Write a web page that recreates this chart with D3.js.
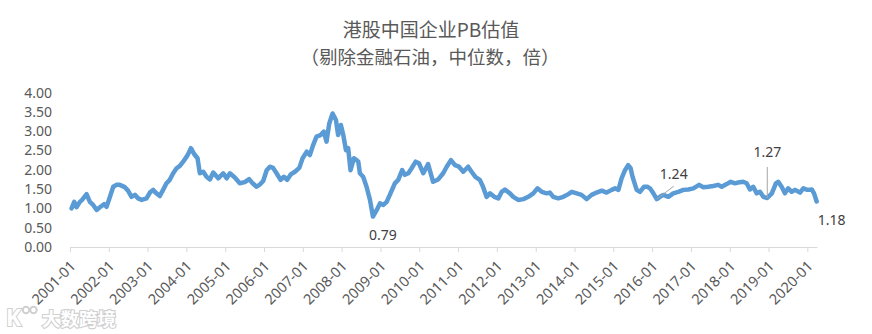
<!DOCTYPE html>
<html>
<head>
<meta charset="utf-8">
<script src="https://cdn.jsdelivr.net/npm/d3@7/dist/d3.min.js"></script>
<style>
  html, body { margin: 0; padding: 0; background: #fff; }
  svg { display: block; }
</style>
</head>
<body>
<svg id="chart" width="872" height="334"></svg>
<script>
// Median P/B of Hong Kong-listed Chinese companies (ex financials & oil)
const dates = [
  "2001-01-16","2001-02-10","2001-03-03","2001-04-04","2001-04-25","2001-06-06","2001-07-07","2001-08-07",
  "2001-09-09","2001-10-09","2001-11-19","2001-12-11","2002-01-12","2002-02-12","2002-03-14","2002-04-14",
  "2002-06-01","2002-07-01","2002-08-03","2002-09-04","2002-10-04","2002-11-06","2002-12-22","2003-01-23",
  "2003-02-22","2003-03-25","2003-04-26","2003-05-27","2003-06-28","2003-07-29","2003-08-30","2003-10-01",
  "2003-11-01","2003-12-02","2004-01-13","2004-02-13","2004-03-14","2004-04-15","2004-05-07","2004-06-08",
  "2004-07-09","2004-08-10","2004-09-10","2004-10-27","2004-12-13","2005-01-14","2005-02-14","2005-04-01",
  "2005-05-18","2005-07-04","2005-08-14","2005-09-16","2005-10-23","2005-11-23","2005-12-24","2006-01-26",
  "2006-02-25","2006-03-27","2006-04-29","2006-06-06","2006-07-07","2006-08-07","2006-09-09","2006-10-19",
  "2006-11-29","2006-12-30","2007-02-07","2007-03-08","2007-04-08","2007-05-10","2007-06-17","2007-07-18",
  "2007-08-12","2007-09-07","2007-10-08","2007-11-09","2007-11-29","2007-12-25","2008-01-17","2008-02-11",
  "2008-03-03","2008-03-25","2008-04-26","2008-05-21","2008-06-06","2008-06-21","2008-07-22","2008-08-23",
  "2008-09-24","2008-10-22","2008-11-27","2008-12-27","2009-01-28","2009-02-28","2009-03-30","2009-05-16",
  "2009-06-17","2009-07-24","2009-08-19","2009-09-20","2009-10-21","2009-11-28","2009-12-29","2010-02-08",
  "2010-03-25","2010-05-11","2010-06-28","2010-08-14","2010-09-16","2010-10-26","2010-12-03","2011-01-10",
  "2011-02-19","2011-04-06","2011-05-08","2011-06-15","2011-07-25","2011-08-24","2011-09-26","2011-10-28",
  "2011-12-08","2012-01-15","2012-02-16","2012-03-17","2012-05-03","2012-06-04","2012-07-20","2012-09-07",
  "2012-10-23","2012-12-09","2013-01-17","2013-02-26","2013-04-14","2013-05-14","2013-06-15","2013-08-01",
  "2013-09-18","2013-11-04","2013-12-06","2014-01-22","2014-03-08","2014-04-25","2014-06-11","2014-07-28",
  "2014-09-14","2014-10-30","2014-12-17","2015-01-18","2015-02-18","2015-03-20","2015-04-21","2015-05-21",
  "2015-06-13","2015-07-01","2015-08-09","2015-09-09","2015-10-16","2015-11-17","2015-12-12","2016-01-13",
  "2016-02-14","2016-03-15","2016-04-16","2016-06-02","2016-07-18","2016-09-04","2016-10-21","2016-12-07",
  "2017-01-23","2017-03-19","2017-04-27","2017-06-13","2017-07-30","2017-09-15","2017-10-17","2017-12-03",
  "2018-01-10","2018-02-20","2018-03-21","2018-05-08","2018-06-09","2018-07-10","2018-08-10","2018-09-12",
  "2018-10-12","2018-11-13","2018-12-20","2019-02-01","2019-03-11","2019-04-02","2019-05-04","2019-06-04",
  "2019-07-05","2019-08-07","2019-09-07","2019-10-24","2019-11-24","2020-01-01","2020-02-12","2020-03-04",
  "2020-03-29"
];
const pbValues = [
  1.00,1.17,1.03,1.17,1.22,1.37,1.17,1.09,
  0.96,1.03,1.11,1.04,1.30,1.56,1.61,1.61,
  1.55,1.46,1.30,1.35,1.26,1.22,1.26,1.41,
  1.48,1.39,1.32,1.48,1.65,1.74,1.91,2.04,
  2.10,2.21,2.38,2.56,2.41,2.30,1.91,1.95,
  1.82,1.75,1.93,1.78,1.91,1.78,1.91,1.80,
  1.65,1.68,1.76,1.65,1.56,1.62,1.71,1.99,
  2.08,2.05,1.91,1.74,1.82,1.74,1.88,1.95,
  2.05,2.30,2.47,2.38,2.64,2.86,2.90,2.99,
  2.73,3.20,3.46,3.29,2.90,3.16,2.90,2.51,
  2.56,1.99,2.30,2.25,2.21,1.91,1.82,1.56,
  1.22,0.79,0.96,1.13,1.09,1.17,1.35,1.65,
  1.74,1.99,1.87,1.91,2.04,2.21,2.17,1.91,
  2.15,1.69,1.75,1.91,2.08,2.25,2.12,2.08,
  1.95,2.08,1.95,1.81,1.74,1.56,1.30,1.39,
  1.30,1.26,1.43,1.49,1.39,1.30,1.22,1.24,
  1.30,1.39,1.52,1.43,1.39,1.41,1.30,1.26,
  1.30,1.37,1.43,1.39,1.35,1.24,1.35,1.41,
  1.46,1.41,1.48,1.52,1.48,1.78,1.99,2.12,
  2.04,1.82,1.48,1.43,1.56,1.56,1.52,1.39,
  1.24,1.30,1.35,1.30,1.39,1.43,1.48,1.49,
  1.52,1.61,1.55,1.56,1.58,1.61,1.56,1.63,
  1.69,1.65,1.67,1.69,1.65,1.49,1.56,1.39,
  1.43,1.30,1.27,1.39,1.65,1.69,1.56,1.39,
  1.52,1.43,1.48,1.41,1.52,1.48,1.49,1.39,
  1.18
];
const yTicks = [0, 0.5, 1, 1.5, 2, 2.5, 3, 3.5, 4];
const xTickLabels = ["2001-01","2002-01","2003-01","2004-01","2005-01","2006-01","2007-01",
  "2008-01","2009-01","2010-01","2011-01","2012-01","2013-01","2014-01","2015-01","2016-01",
  "2017-01","2018-01","2019-01","2020-01"];
// dates whose values are called out on the chart
const calloutDates = ["2008-10-22", "2016-02-14", "2018-12-20", "2020-03-29"];

const titleText = "港股中国企业PB估值";
const subtitleText = "（剔除金融石油，中位数，倍）";

const parse = d3.timeParse("%Y-%m-%d");
const parseMonth = d3.timeParse("%Y-%m");
const series = dates.map((d, i) => ({ date: parse(d), value: pbValues[i] }));

const svg = d3.select("#chart");
const font = "'Noto Sans', 'Noto Sans CJK SC', sans-serif";
const cjk = "'Noto Sans CJK SC', 'Noto Sans', sans-serif";

const x = d3.scaleTime()
  .domain([parseMonth("2001-01"), parseMonth("2020-04")])
  .range([70, 817]);
const y = d3.scaleLinear().domain([0, 4]).range([247, 92.6]);

// titles
svg.append("text")
  .attr("x", 431).attr("y", 37)
  .attr("text-anchor", "middle")
  .attr("font-family", cjk).attr("font-size", 19)
  .attr("fill", "#595959")
  .text(titleText);
svg.append("text")
  .attr("x", 430).attr("y", 64)
  .attr("text-anchor", "middle")
  .attr("font-family", cjk).attr("font-size", 18.5)
  .attr("fill", "#595959")
  .text(subtitleText);

// y axis (labels only)
const yAxis = d3.axisLeft(y).tickValues(yTicks).tickFormat(d3.format(".2f")).tickSize(0).tickPadding(0);
const gy = svg.append("g").attr("transform", "translate(52,0)").call(yAxis);
gy.select(".domain").remove();
gy.selectAll("text")
  .attr("font-family", font).attr("font-size", 14)
  .attr("fill", "#595959");

// x axis
const xTickDates = xTickLabels.map(parseMonth);
const xAxis = d3.axisBottom(x).tickValues(xTickDates).tickFormat(d3.timeFormat("%Y-%m"))
  .tickSize(5).tickSizeOuter(0);
const gx = svg.append("g").attr("transform", "translate(0,247)").call(xAxis);
gx.select(".domain").attr("stroke", "#D9D9D9").attr("stroke-width", 1);
gx.selectAll(".tick line").attr("stroke", "#D9D9D9");
gx.selectAll(".tick text")
  .attr("font-family", font).attr("font-size", 14.5)
  .attr("fill", "#595959")
  .attr("text-anchor", "end")
  .attr("dy", null)
  .attr("y", 0)
  .attr("transform", "translate(6,20) rotate(-45)");

// series line
const line = d3.line().x(d => x(d.date)).y(d => y(d.value));
svg.append("path")
  .datum(series)
  .attr("fill", "none")
  .attr("stroke", "#5B9BD5")
  .attr("stroke-width", 4.5)
  .attr("stroke-linejoin", "round")
  .attr("stroke-linecap", "round")
  .attr("d", line);

// value callouts
const callouts = calloutDates.map(ds => series.find(p => +p.date === +parse(ds)));
const fmt = d3.format(".2f");
const layout = [
  { dx: 10, dy: 19, anchor: "middle", leader: null },
  { dx: 17, dy: -25, anchor: "middle", leader: [17, -13] },
  { dx: 0, dy: -46, anchor: "middle", leader: [0, -31] },
  { dx: 1, dy: 19, anchor: "start", leader: null }
];
callouts.forEach((p, i) => {
  const px = x(p.date), py = y(p.value), L = layout[i];
  if (L.leader) {
    svg.append("line")
      .attr("x1", px).attr("y1", py)
      .attr("x2", px + L.leader[0]).attr("y2", py + L.leader[1])
      .attr("stroke", "#A6A6A6").attr("stroke-width", 1);
  }
  svg.append("text")
    .attr("x", px + L.dx).attr("y", py + L.dy)
    .attr("dy", "0.35em")
    .attr("text-anchor", L.anchor)
    .attr("font-family", font).attr("font-size", 14)
    .attr("fill", "#404040")
    .text(fmt(p.value));
});

// brand mark, bottom left
const markGray = "#D0D0D0";
const mark = svg.append("g");
mark.append("text")
  .attr("x", 6).attr("y", 326)
  .attr("font-family", font).attr("font-size", 23).attr("font-weight", "bold")
  .attr("fill", "#fff").attr("stroke", markGray).attr("stroke-width", 2)
  .attr("paint-order", "stroke")
  .text("K");
mark.append("circle").attr("cx", 26).attr("cy", 310).attr("r", 3.2)
  .attr("fill", "none").attr("stroke", markGray).attr("stroke-width", 2);
mark.append("circle").attr("cx", 33.5).attr("cy", 310).attr("r", 3.2)
  .attr("fill", "none").attr("stroke", markGray).attr("stroke-width", 2);
mark.append("text")
  .attr("x", 42).attr("y", 326)
  .attr("font-family", cjk).attr("font-size", 18.5).attr("font-weight", "bold")
  .attr("fill", "#fff").attr("stroke", markGray).attr("stroke-width", 2.2)
  .attr("paint-order", "stroke")
  .text("大数跨境");
</script>
</body>
</html>
